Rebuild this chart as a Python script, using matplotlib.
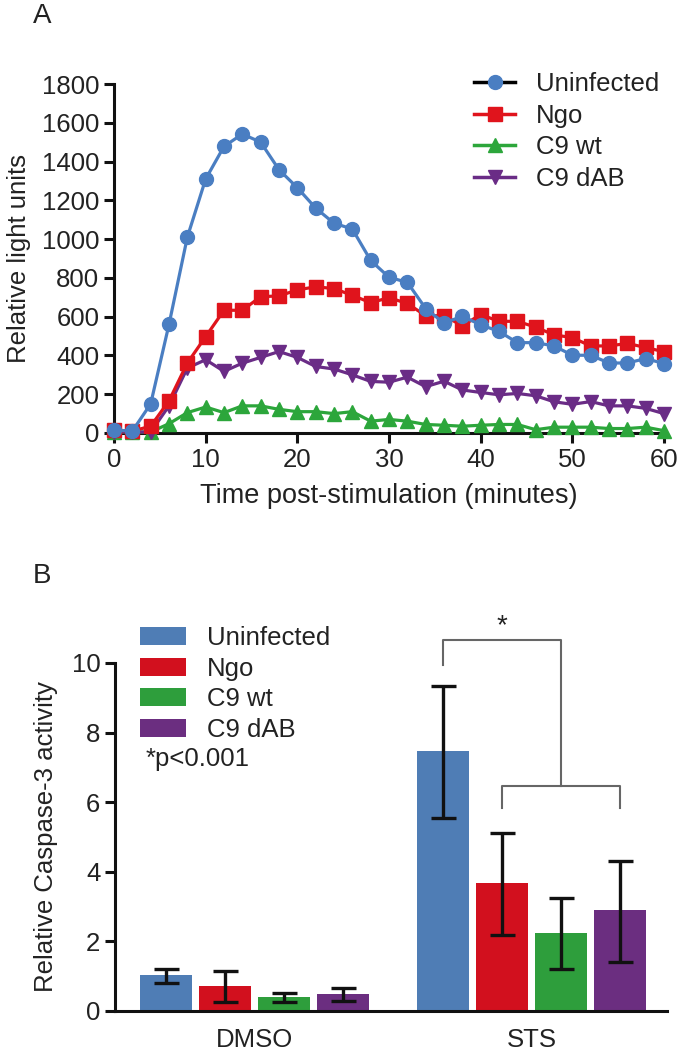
import numpy as np
import matplotlib
matplotlib.use("Agg")
import matplotlib.pyplot as plt
from matplotlib.lines import Line2D
from matplotlib.patches import Patch

plt.rcParams['font.family'] = ['Liberation Sans', 'DejaVu Sans']
plt.rcParams['font.size'] = 18.5
plt.rcParams['text.color'] = '#222222'
plt.rcParams['axes.labelcolor'] = '#222222'
plt.rcParams['xtick.color'] = '#222222'
plt.rcParams['ytick.color'] = '#222222'

# panel A: luminescence time course
minutes = list(range(0, 62, 2))
uninfected = [15, 10, 150, 560, 1010, 1310, 1478, 1542, 1500, 1358, 1265, 1160, 1082,
              1052, 890, 803, 777, 642, 567, 602, 558, 524, 466, 466, 449, 401, 401,
              361, 361, 384, 358]
ngo = [15, 10, 35, 166, 361, 497, 633, 633, 703, 707, 738, 754, 745, 710, 672, 698,
       668, 605, 605, 553, 611, 576, 576, 546, 506, 492, 449, 449, 462, 441, 419]
c9_wt = [5, 5, 5, 48, 105, 134, 105, 140, 140, 122, 110, 110, 100, 110, 61, 70, 61,
         44, 40, 35, 40, 44, 44, 17, 30, 30, 30, 23, 23, 30, 12]
c9_dab = [5, 5, 5, 140, 335, 378, 318, 360, 390, 420, 390, 343, 330, 300, 266, 262,
          288, 239, 267, 222, 209, 197, 204, 192, 161, 148, 162, 140, 140, 127, 100]

# panel B: caspase-3 activity
treatments = ['DMSO', 'STS']
groups = ['Uninfected', 'Ngo', 'C9 wt', 'C9 dAB']
casp_mean = {'Uninfected': [1.04, 7.48], 'Ngo': [0.73, 3.68],
             'C9 wt': [0.40, 2.25], 'C9 dAB': [0.49, 2.89]}
casp_low = {'Uninfected': [0.80, 5.54], 'Ngo': [0.25, 2.17],
            'C9 wt': [0.25, 1.21], 'C9 dAB': [0.30, 1.42]}
casp_high = {'Uninfected': [1.22, 9.35], 'Ngo': [1.15, 5.12],
             'C9 wt': [0.52, 3.24], 'C9 dAB': [0.65, 4.32]}

line_colors = {'Uninfected': '#4A7EC2', 'Ngo': '#E0141C', 'C9 wt': '#2CA63B', 'C9 dAB': '#6A2C86'}
bar_colors = {'Uninfected': '#4F7DB5', 'Ngo': '#D2101E', 'C9 wt': '#2E9E3C', 'C9 dAB': '#6B2E80'}
markers = {'Uninfected': 'o', 'Ngo': 's', 'C9 wt': '^', 'C9 dAB': 'v'}
msizes = {'Uninfected': 10, 'Ngo': 9.5, 'C9 wt': 9.5, 'C9 dAB': 9.5}

fig = plt.figure(figsize=(6.81, 10.5), dpi=100)

# ---------- A ----------
axA = fig.add_axes([114 / 681, 1 - 433 / 1050, 550 / 681, 349 / 1050])
series = {'Uninfected': uninfected, 'Ngo': ngo, 'C9 wt': c9_wt, 'C9 dAB': c9_dab}
for name in ['C9 wt', 'C9 dAB', 'Ngo', 'Uninfected']:
    axA.plot(minutes, series[name], color=line_colors[name], lw=2.3,
             marker=markers[name], ms=msizes[name], mec=line_colors[name],
             mfc=line_colors[name], clip_on=False, zorder=3)

axA.set_xlim(0, 60)
axA.set_ylim(0, 1800)
axA.set_xticks(range(0, 61, 10))
axA.set_yticks(range(0, 1801, 200))
axA.set_xlabel('Time post-stimulation (minutes)', labelpad=8, fontsize=19.5)
axA.set_ylabel('Relative light units', labelpad=8)

handles = []
for name in groups:
    lc = 'black' if name == 'Uninfected' else line_colors[name]
    handles.append(Line2D([], [], color=lc, lw=2.5, marker=markers[name],
                          ms=msizes[name], mfc=line_colors[name], mec=line_colors[name]))
axA.legend(handles, groups, loc='upper left', bbox_to_anchor=(474 / 681, 1 - 72 / 1050),
           bbox_transform=fig.transFigure, frameon=False, handlelength=1.6,
           handletextpad=0.8, labelspacing=0.3, borderaxespad=0, borderpad=0)

# ---------- B ----------
axB = fig.add_axes([115 / 681, 1 - 1011 / 1050, 552 / 681, 348 / 1050])
x = np.arange(len(treatments))
step = 0.213
width = 0.188
for i, name in enumerate(groups):
    pos = x + (i - 1.5) * step
    mean = np.array(casp_mean[name])
    err = [mean - np.array(casp_low[name]), np.array(casp_high[name]) - mean]
    axB.bar(pos, mean, width=width, color=bar_colors[name], zorder=2)
    axB.errorbar(pos, mean, yerr=err, fmt='none', ecolor='#111111', elinewidth=2.4,
                 capsize=9, capthick=2.4, zorder=3)

axB.set_xlim(-0.505, 1.49)
axB.set_ylim(0, 10)
axB.set_yticks(range(0, 11, 2))
axB.set_xticks(x)
axB.set_xticklabels(treatments)
axB.set_ylabel('Relative Caspase-3 activity', labelpad=10)

# significance brackets
sts = x[1] + (np.arange(4) - 1.5) * step
bk = dict(color='#666666', lw=1.5, clip_on=False)
axB.plot([sts[1], sts[1], sts[3], sts[3]], [5.83, 6.47, 6.47, 5.83], **bk)
mid = (sts[1] + sts[3]) / 2
axB.plot([sts[0], sts[0], mid, mid], [9.95, 10.66, 10.66, 6.47], **bk)
axB.text((sts[0] + mid) / 2, 11.05, '*', ha='center', va='center', fontsize=20, clip_on=False)
axB.text(-0.395, 7.25, '*p<0.001', ha='left', va='center')

patches = [Patch(facecolor=bar_colors[n], edgecolor='none') for n in groups]
axB.legend(patches, groups, loc='upper left', bbox_to_anchor=(140 / 681, 1 - 626 / 1050),
           bbox_transform=fig.transFigure, frameon=False, handlelength=1.8,
           handleheight=0.7, handletextpad=0.8, labelspacing=0.26,
           borderaxespad=0, borderpad=0)

for ax in (axA, axB):
    for s in ('top', 'right'):
        ax.spines[s].set_visible(False)
    for s in ('left', 'bottom'):
        ax.spines[s].set_linewidth(2.2)
        ax.spines[s].set_color('#111111')
    ax.tick_params(width=2.2, length=7, color='#111111')
axB.tick_params(axis='x', length=0, pad=12)

fig.text(33 / 681, 1 - 16 / 1050, 'A', fontsize=20, ha='left', va='center')
fig.text(33 / 681, 1 - 576 / 1050, 'B', fontsize=20, ha='left', va='center')

fig.savefig('out.png', dpi=100)
